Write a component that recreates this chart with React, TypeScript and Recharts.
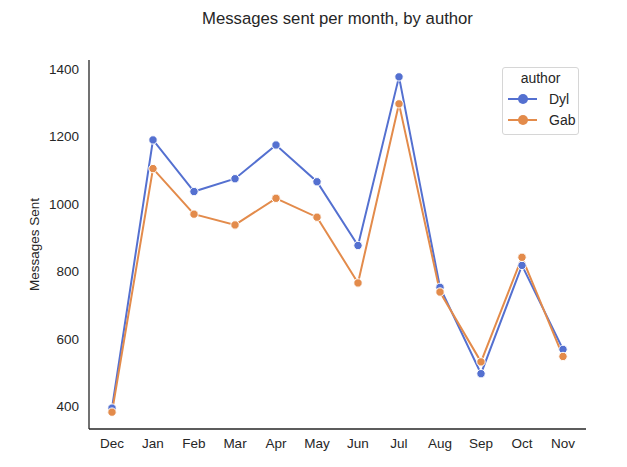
import { LineChart, Line, XAxis, YAxis } from "recharts";

const months = ["Dec", "Jan", "Feb", "Mar", "Apr", "May", "Jun", "Jul", "Aug", "Sep", "Oct", "Nov"];
const dyl = [395, 1190, 1037, 1075, 1175, 1066, 877, 1377, 753, 497, 818, 569];
const gab = [383, 1105, 970, 938, 1017, 961, 766, 1297, 739, 532, 842, 548];
const yTicks = [400, 600, 800, 1000, 1200, 1400];
const authors = ["Dyl", "Gab"];

const BLUE = "#5470d0";
const ORANGE = "#e38b4b";
const INK = "#262626";
const FONT = "'Liberation Sans', Arial, sans-serif";
const TICK_SIZE = 13.5;

const data = months.map((m, i) => ({ month: m, Dyl: dyl[i], Gab: gab[i] }));
const colors = [BLUE, ORANGE];

// seaborn-style legend box, drawn over the plot
function AuthorLegend() {
  return (
    <div
      style={{
        position: "absolute",
        left: 502,
        top: 67,
        width: 77,
        height: 68,
        border: "1px solid #d6d6d6",
        borderRadius: 3,
        background: "#fff",
        fontSize: 14,
        color: INK,
        fontFamily: FONT,
        boxSizing: "border-box",
      }}
    >
      <div style={{ position: "absolute", left: 0, width: 75, top: 2, textAlign: "center" }}>author</div>
      {authors.map((name, i) => (
        <div key={name} style={{ position: "absolute", left: 4, top: 23 + i * 21, display: "flex", alignItems: "center" }}>
          <svg width={32} height={14} style={{ marginRight: 10 }}>
            <line x1={1} y1={7} x2={30} y2={7} stroke={colors[i]} strokeWidth={2} />
            <circle cx={16} cy={7} r={5} fill={colors[i]} />
          </svg>
          <span>{name}</span>
        </div>
      ))}
    </div>
  );
}

export default function App() {
  return (
    <div style={{ position: "absolute", left: 0, top: 0, width: 627, height: 467, background: "#fff", fontFamily: FONT }}>
      <div
        style={{
          position: "absolute",
          top: 9,
          left: 89,
          width: 497,
          textAlign: "center",
          fontSize: 16.7,
          color: INK,
        }}
      >
        Messages sent per month, by author
      </div>
      <LineChart width={627} height={467} data={data} margin={{ top: 60, right: 41, bottom: 8, left: 29 }}>
        <XAxis
          dataKey="month"
          padding={{ left: 23, right: 23 }}
          tickLine={false}
          tickSize={0}
          tickMargin={9}
          height={30}
          stroke={INK}
          strokeWidth={1.3}
          tick={{ fontSize: TICK_SIZE, fill: INK, fontFamily: FONT }}
        />
        <YAxis
          domain={[333, 1427]}
          ticks={yTicks}
          tickLine={false}
          tickSize={0}
          tickMargin={10}
          width={60}
          stroke={INK}
          strokeWidth={1.3}
          tick={{ fontSize: TICK_SIZE, fill: INK, fontFamily: FONT }}
          label={{
            value: "Messages Sent",
            angle: -90,
            position: "insideLeft",
            offset: 0,
            dx: 5,
            style: { textAnchor: "middle", fontSize: TICK_SIZE, fill: INK, fontFamily: FONT },
          }}
        />
        <Line
          type="linear"
          dataKey="Dyl"
          stroke={BLUE}
          strokeWidth={2}
          dot={{ r: 4.2, fill: BLUE, stroke: "#fff", strokeWidth: 1 }}
          activeDot={false}
          isAnimationActive={false}
        />
        <Line
          type="linear"
          dataKey="Gab"
          stroke={ORANGE}
          strokeWidth={2}
          dot={{ r: 4.2, fill: ORANGE, stroke: "#fff", strokeWidth: 1 }}
          activeDot={false}
          isAnimationActive={false}
        />
      </LineChart>
      <AuthorLegend />
    </div>
  );
}
